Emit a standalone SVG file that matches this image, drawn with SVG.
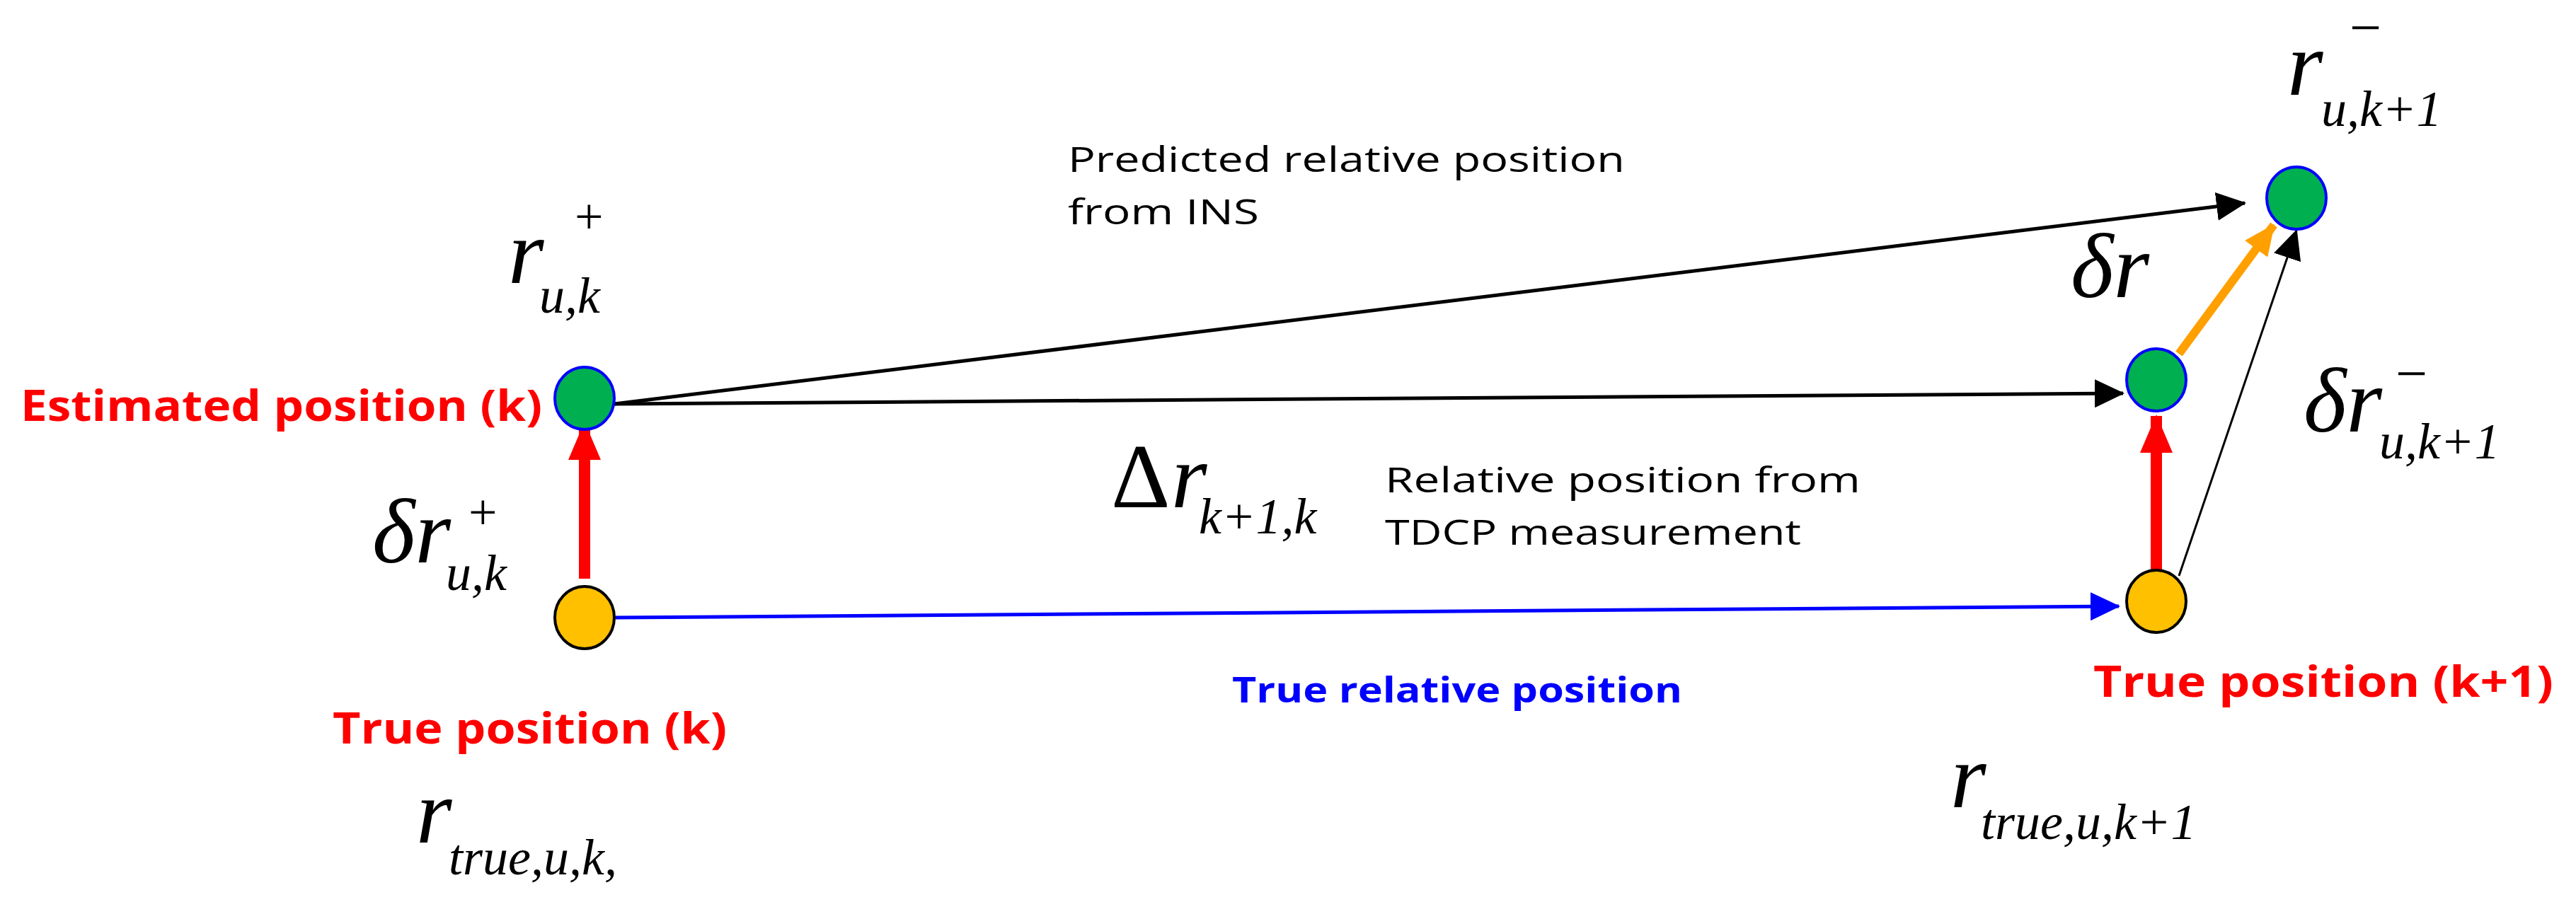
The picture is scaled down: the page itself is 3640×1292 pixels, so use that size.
<svg xmlns="http://www.w3.org/2000/svg" width="3640" height="1292" viewBox="0 0 3640 1292">
<style>
.lbl{font-family:"Open Sans","Liberation Sans",sans-serif;font-size:50px;fill:#000;}
.red{font-family:"Open Sans","Liberation Sans",sans-serif;font-weight:bold;font-size:60px;fill:#ff0000;}
.blue{font-family:"Open Sans","Liberation Sans",sans-serif;font-weight:bold;font-size:50px;fill:#0000ff;}
.m{font-family:"Liberation Serif",serif;font-style:italic;fill:#000;}
.mu{font-family:"Liberation Serif",serif;fill:#000;}
.big{font-size:130px;}
.sub{font-size:72px;}
.green{fill:#00b050;stroke:#0000ff;stroke-width:4;}
.yellow{fill:#ffc000;stroke:#000;stroke-width:4;}
</style>
<defs>
<marker id="ablk" markerWidth="42" markerHeight="40" refX="40" refY="20" orient="auto" markerUnits="userSpaceOnUse"><path d="M0,0 L42,20 L0,40 z" fill="#000"/></marker>
<marker id="ablu" markerWidth="42" markerHeight="40" refX="40" refY="20" orient="auto" markerUnits="userSpaceOnUse"><path d="M0,0 L42,20 L0,40 z" fill="#0000ff"/></marker>
<marker id="ared" markerWidth="54" markerHeight="46" refX="52" refY="23" orient="auto" markerUnits="userSpaceOnUse"><path d="M0,0 L54,23 L0,46 z" fill="#ff0000"/></marker>
<marker id="aor" markerWidth="44" markerHeight="40" refX="42" refY="20" orient="auto" markerUnits="userSpaceOnUse"><path d="M0,0 L44,20 L0,40 z" fill="#ffa000"/></marker>
</defs>
<g id="connectors">
<line x1="868" y1="571" x2="3172" y2="287" stroke="#000" stroke-width="5" marker-end="url(#ablk)"/>
<line x1="868" y1="571" x2="3000" y2="556" stroke="#000" stroke-width="5" marker-end="url(#ablk)"/>
<line x1="870" y1="873" x2="2994" y2="857" stroke="#0000ff" stroke-width="5" marker-end="url(#ablu)"/>
<line x1="826" y1="818" x2="826" y2="598" stroke="#ff0000" stroke-width="16" marker-end="url(#ared)"/>
<line x1="3047" y1="806" x2="3047" y2="588" stroke="#ff0000" stroke-width="16" marker-end="url(#ared)"/>
<line x1="3079" y1="500" x2="3213" y2="318" stroke="#ffa000" stroke-width="12" marker-end="url(#aor)"/>
<line x1="3079" y1="814" x2="3245" y2="326" stroke="#000" stroke-width="3" marker-end="url(#ablk)"/>
</g>
<g id="node-est-k"><ellipse class="green" cx="826" cy="563" rx="42" ry="44"/></g>
<g id="node-true-k"><ellipse class="yellow" cx="826" cy="873" rx="42" ry="44"/></g>
<g id="node-pred-k1"><ellipse class="green" cx="3245" cy="280" rx="42" ry="44"/></g>
<g id="node-est-k1"><ellipse class="green" cx="3047" cy="537" rx="42" ry="44"/></g>
<g id="node-true-k1"><ellipse class="yellow" cx="3047" cy="850" rx="42" ry="44"/></g>
<g id="labels">
<text class="red" x="29" y="595" textLength="737" lengthAdjust="spacingAndGlyphs">Estimated position (k)</text>
<text class="red" x="470" y="1051" textLength="557" lengthAdjust="spacingAndGlyphs">True position (k)</text>
<text class="red" x="2958" y="985" textLength="650" lengthAdjust="spacingAndGlyphs">True position (k+1)</text>
<text class="blue" x="1741" y="993" textLength="636" lengthAdjust="spacingAndGlyphs">True relative position</text>
<text class="lbl" x="1509" y="243" textLength="787" lengthAdjust="spacingAndGlyphs">Predicted relative position</text>
<text class="lbl" x="1509" y="317" textLength="270" lengthAdjust="spacingAndGlyphs">from INS</text>
<text class="lbl" x="1957" y="696" textLength="672" lengthAdjust="spacingAndGlyphs">Relative position from</text>
<text class="lbl" x="1957" y="770" textLength="588" lengthAdjust="spacingAndGlyphs">TDCP measurement</text>
<text class="m big" x="718" y="400">r</text>
<text class="mu" font-size="72" x="812" y="330">+</text>
<text class="m sub" x="762" y="442">u,k</text>
<text class="m big" x="526" y="795">δr</text>
<text class="mu" font-size="72" x="662" y="748">+</text>
<text class="m sub" x="630" y="834">u,k</text>
<text class="m big" x="588" y="1191">r</text>
<text class="m sub" x="634" y="1236">true,u,k,</text>
<text class="mu big" x="1570" y="717">Δ</text>
<text class="m big" x="1655" y="717">r</text>
<text class="m sub" x="1694" y="754">k+1,k</text>
<text class="m big" x="2926" y="420">δr</text>
<text class="m big" x="3232" y="134">r</text>
<text class="mu" font-size="80" x="3320" y="66">−</text>
<text class="m sub" x="3280" y="178">u,k+1</text>
<text class="m big" x="3255" y="610">δr</text>
<text class="mu" font-size="80" x="3385" y="555">−</text>
<text class="m sub" x="3362" y="648">u,k+1</text>
<text class="m big" x="2756" y="1141">r</text>
<text class="m sub" x="2799" y="1186">true,u,k+1</text>
</g>
</svg>
